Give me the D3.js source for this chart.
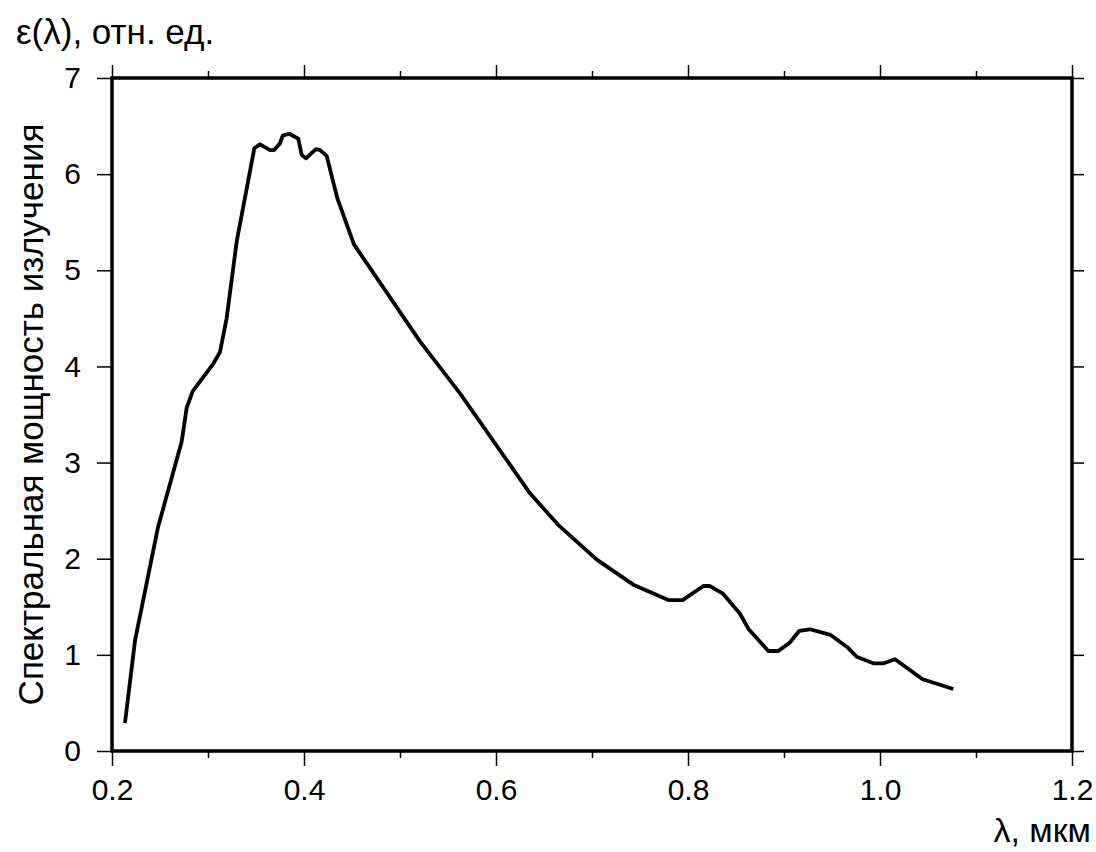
<!DOCTYPE html>
<html>
<head>
<meta charset="utf-8">
<script src="https://cdn.jsdelivr.net/npm/d3@7"></script>
<style>
  body { margin: 0; background: #fff; }
  svg { font-family: "Liberation Sans", Arial, sans-serif; }
</style>
</head>
<body>
<div id="viz"></div>
<script>
// wavelength, um
var lambda = [0.2135, 0.224, 0.248, 0.2726, 0.2778, 0.284, 0.3056, 0.3125, 0.3194, 0.3299,
  0.3483, 0.3542, 0.3646, 0.3688, 0.375, 0.3778, 0.3847, 0.394, 0.3976, 0.402,
  0.4125, 0.4167, 0.4236, 0.4347, 0.452, 0.5208, 0.5625, 0.6354, 0.665, 0.705,
  0.743, 0.7795, 0.7944, 0.816, 0.8229, 0.836, 0.854, 0.863, 0.8837, 0.894,
  0.906, 0.916, 0.927, 0.9486, 0.966, 0.9757, 0.993, 1.004, 1.0156, 1.0444, 1.0764];
// spectral power, rel. units
var power = [0.29, 1.15, 2.33, 3.22, 3.57, 3.74, 4.03, 4.15, 4.50, 5.30,
  6.27, 6.31, 6.25, 6.25, 6.32, 6.40, 6.42, 6.37, 6.20, 6.165,
  6.26, 6.25, 6.19, 5.75, 5.27, 4.26, 3.72, 2.68, 2.35, 1.99,
  1.73, 1.57, 1.57, 1.716, 1.716, 1.64, 1.43, 1.27, 1.04, 1.04,
  1.127, 1.25, 1.266, 1.207, 1.08, 0.98, 0.912, 0.912, 0.954, 0.746, 0.645];

var xTicks = [0.2, 0.4, 0.6, 0.8, 1.0, 1.2];
var xMinor = [0.3, 0.5, 0.7, 0.9, 1.1];
var yTicks = [0, 1, 2, 3, 4, 5, 6, 7];

var yTitle = "Спектральная мощность излучения";
var topLabel = "ε(λ), отн. ед.";
var xTitle = "λ, мкм";

var W = 1096, H = 852;
var margin = {top: 78, left: 112, right: 24, bottom: 101};
var width = W - margin.left - margin.right,
    height = H - margin.top - margin.bottom;

var svg = d3.select("#viz").append("svg")
    .attr("width", W)
    .attr("height", H);

var g = svg.append("g")
    .attr("transform", `translate(${margin.left},${margin.top})`);

var x = d3.scaleLinear().domain([0.2, 1.2]).range([0, width]);
var y = d3.scaleLinear().domain([0, 7]).range([height, 0]);

function styleAxis(sel) {
  sel.select(".domain").remove();
  sel.selectAll(".tick line").attr("stroke", "#000").attr("stroke-width", 1.5);
  sel.selectAll("text").attr("fill", "#000").style("font-size", "30px")
    .style("font-family", "'Liberation Sans', Arial, sans-serif");
}

// bottom axis
g.append("g")
  .attr("transform", `translate(0,${height})`)
  .call(d3.axisBottom(x).tickValues(xTicks).tickSize(15).tickPadding(13)
    .tickFormat(d3.format(".1f")))
  .call(styleAxis);
g.append("g")
  .attr("transform", `translate(0,${height})`)
  .call(d3.axisBottom(x).tickValues(xMinor).tickSize(7).tickFormat(""))
  .call(styleAxis);

// top axis
g.append("g")
  .call(d3.axisTop(x).tickValues(xTicks).tickSize(13).tickFormat(""))
  .call(styleAxis);
g.append("g")
  .call(d3.axisTop(x).tickValues(xMinor).tickSize(7).tickFormat(""))
  .call(styleAxis);

// left axis
g.append("g")
  .call(d3.axisLeft(y).tickValues(yTicks).tickSize(15).tickPadding(16)
    .tickFormat(d3.format("d")))
  .call(styleAxis);

// right axis
g.append("g")
  .attr("transform", `translate(${width},0)`)
  .call(d3.axisRight(y).tickValues(yTicks).tickSize(12).tickFormat(""))
  .call(styleAxis);

// frame
g.append("rect")
  .attr("x", 0).attr("y", 0)
  .attr("width", width).attr("height", height)
  .attr("fill", "none")
  .attr("stroke", "#000")
  .attr("stroke-width", 3.5);

// curve
var data = lambda.map(function(d, i) { return {l: d, p: power[i]}; });
g.append("path")
  .datum(data)
  .attr("fill", "none")
  .attr("stroke", "#000")
  .attr("stroke-width", 3.8)
  .attr("stroke-linejoin", "round")
  .attr("d", d3.line()
    .x(function(d) { return x(d.l); })
    .y(function(d) { return y(d.p); }));

// titles
svg.append("text")
  .attr("transform", `translate(43,${margin.top + height / 2}) rotate(-90)`)
  .attr("text-anchor", "middle")
  .style("font-size", "35px")
  .text(yTitle);

svg.append("text")
  .attr("x", 16).attr("y", 44)
  .style("font-size", "35px")
  .text(topLabel);

svg.append("text")
  .attr("x", 1091).attr("y", 842)
  .attr("text-anchor", "end")
  .style("font-size", "34px")
  .text(xTitle);
</script>
</body>
</html>
